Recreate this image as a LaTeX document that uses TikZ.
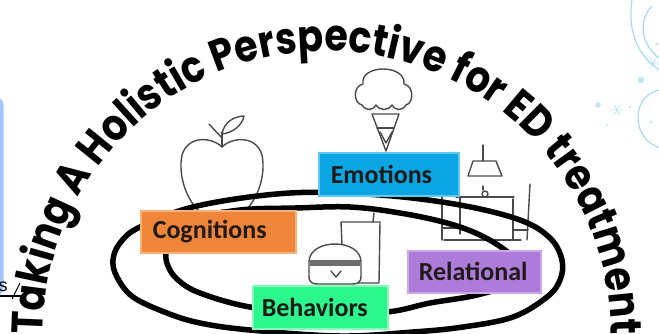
\documentclass[tikz,border=0pt]{standalone}
\usepackage{fontspec}
\usetikzlibrary{decorations.text}
\newfontfamily\titlefont{Poppins}[FakeStretch=0.865]
\newfontfamily\labelfont{Carlito}
\newfontfamily\fragfont{Liberation Sans}

\definecolor{cogorange}{HTML}{EE8538}
\definecolor{cogedge}{HTML}{F7B27C}
\definecolor{emoblue}{HTML}{0AA6E4}
\definecolor{emoedge}{HTML}{5FC9F1}
\definecolor{behgreen}{HTML}{2CF78C}
\definecolor{behedge}{HTML}{86FBBA}
\definecolor{relpurple}{HTML}{AD7BD9}
\definecolor{reledge}{HTML}{CBA8E8}
\definecolor{labelink}{HTML}{1F1A18}
\definecolor{icongray}{HTML}{4A4A4A}
\definecolor{swirlblue}{HTML}{A6DAF3}
\definecolor{dotblue}{HTML}{BEE5F8}
\definecolor{sideblue}{HTML}{A3C5FD}

\tikzset{
  ring/.style={line width=5.5pt, line join=round},
  icon/.style={draw=icongray, line width=1.4pt, line join=round, line cap=round},
  catbox/.style={anchor=north west, inner xsep=12pt, inner ysep=0pt, align=left,
    font=\labelfont\bfseries\fontsize{26}{26}\selectfont, text=labelink, line width=1.5pt},
  swirl/.style={draw=swirlblue, line width=1.2pt},
  flake/.style={draw=dotblue, line width=0.8pt},
}

\begin{document}
\begin{tikzpicture}[x=1pt, y=-1pt]
\useasboundingbox (0,0) rectangle (659,333);

% edge of the neighbouring panel on the left
\fill[sideblue, rounded corners=8pt] (-20,97) rectangle (3.5,296);
\node[font=\fragfont\fontsize{18}{18}\selectfont, inner sep=0pt] (frag) at (3,287) {s};
\draw[line width=1.1pt] (0,296) -- (26,296);
\draw[line width=1.1pt] (12,299) -- (20,283);

% winter swirls in the top right corner
\draw[swirl] (632,0) .. controls (627,35) and (640,58) .. (662,72);
\draw[swirl] (652,6) .. controls (638,20) and (640,46) .. (662,60);
\draw[swirl] (662,90) .. controls (630,92) and (630,142) .. (662,148);
\fill[dotblue] (641,80) circle (3.2);
\fill[dotblue] (598,105) circle (2.8);
\fill[dotblue] (651,122) circle (1.6);
\fill[dotblue] (607,125) circle (1.1);
\fill[black!15] (630,107) circle (1.4);
\fill[black!15] (657,44) circle (1.6);
\draw[flake, shift={(617,110)}] (0:6pt) -- (180:6pt) (60:6pt) -- (240:6pt) (120:6pt) -- (300:6pt);
\draw[flake, shift={(653,63)}] (0:7pt) -- (180:7pt) (60:7pt) -- (240:7pt) (120:7pt) -- (300:7pt);

% apple
\draw[icon] (222,147) .. controls (232,137) and (256,135) .. (262,155)
  .. controls (266,175) and (258,198) .. (246,210)
  .. controls (238,216) and (228,214) .. (222,210)
  .. controls (216,214) and (206,216) .. (198,210)
  .. controls (186,198) and (178,175) .. (182,155)
  .. controls (188,135) and (212,137) .. (222,147) -- cycle;
\draw[icon] (222,147) -- (222,132);
\draw[icon] (209,124) -- (222,138);
\draw[icon] (222,134) .. controls (224,121) and (236,116) .. (244,116)
  .. controls (242,126) and (232,133) .. (222,134);

% ice cream cone
\draw[icon] (362,105) .. controls (353,103) and (353,86) .. (363,84)
  .. controls (360,64) and (406,64) .. (404,84)
  .. controls (414,86) and (414,103) .. (406,105);
\draw[icon] (362,105) .. controls (366,111) and (372,111) .. (376,105)
  .. controls (380,111) and (388,111) .. (392,105)
  .. controls (396,111) and (402,111) .. (406,105);
\draw[icon] (372,114) -- (399,114) -- (386,151) -- cycle;
\draw[icon] (377,128) -- (394,128);
\draw[icon] (380,132) -- (386,143) -- (392,132);

% drink and burger
\draw[icon] (374,213) -- (373,222);
\draw[icon] (342,245) -- (341,222) -- (380,222) -- (379,283) -- (358,283);
\draw[icon, fill=white] (309,262) .. controls (309,238) and (361,238) .. (361,262)
  -- (361,276) .. controls (361,283) and (357,284) .. (352,284) -- (318,284)
  .. controls (313,284) and (309,283) .. (309,276) -- cycle;
\fill[icongray!80] (310,259.5) rectangle (360,266);
\draw[icon] (331,271) -- (336,277) -- (341,271);

% lamp, table and chairs
\draw[icon] (483,145) -- (483,161);
\draw[icon] (473,161) -- (496,161) -- (502,176) -- (468,176) -- cycle;
\draw[icon] (483,186) -- (483,190);
\draw[icon] (485,194) circle (3);
\draw[icon] (456,197) -- (514,197);
\draw[icon] (460,197) -- (460,234);
\draw[icon] (513,199) -- (513,240);
\draw[icon] (442,186) -- (442,240);
\draw[icon] (442,228) -- (460,228);
\draw[icon] (530,184) -- (527,240);
\draw[icon] (513,230) -- (528,230);
\draw[icon] (444,240) -- (521,240);

% the two rings
\draw[ring] plot[smooth cycle, tension=0.6] coordinates {
  (113,260) (120,243) (140,227) (197,206) (290,193) (380,195) (460,205)
  (520,220) (550,238) (562,260) (560,280) (547,297) (513,317) (463,327)
  (413,332) (340,336) (250,330) (200,323) (167,313) (133,297) (117,277)};
\draw[ring] plot[smooth cycle, tension=0.6] coordinates {
  (166,252) (172,236) (190,220) (240,210) (295,208) (350,207) (400,213)
  (447,223) (480,235) (505,250) (520,265) (515,282) (477,295) (430,303)
  (387,312) (320,314) (250,307) (200,293) (178,280) (168,266)};

% category boxes
\node[catbox, fill=cogorange, draw=cogedge, minimum width=155pt, minimum height=42pt,
  text width=131pt] (cog) at (140,210) {Cognitions};
\node[catbox, fill=emoblue, draw=emoedge, minimum width=140pt, minimum height=43pt,
  text width=116pt] (emo) at (318,152) {Emotions};
\node[catbox, fill=behgreen, draw=behedge, minimum width=135pt, minimum height=43pt,
  inner xsep=9pt, text width=117pt] (beh) at (252,285) {Behaviors};
\node[catbox, fill=relpurple, draw=reledge, minimum width=133pt, minimum height=42pt,
  inner xsep=11pt, text width=111pt] (rel) at (407,250) {Relational};

% curved title
\coordinate (tc) at (327,335);
\path[decorate, decoration={text along path, text align=center,
  text={|\titlefont\bfseries\fontsize{44}{44}\selectfont|Taking A Holistic Perspective for ED treatment}}]
  (tc) ++(185:284pt) arc[start angle=185, end angle=-5, radius=284pt];
\end{tikzpicture}
\end{document}
